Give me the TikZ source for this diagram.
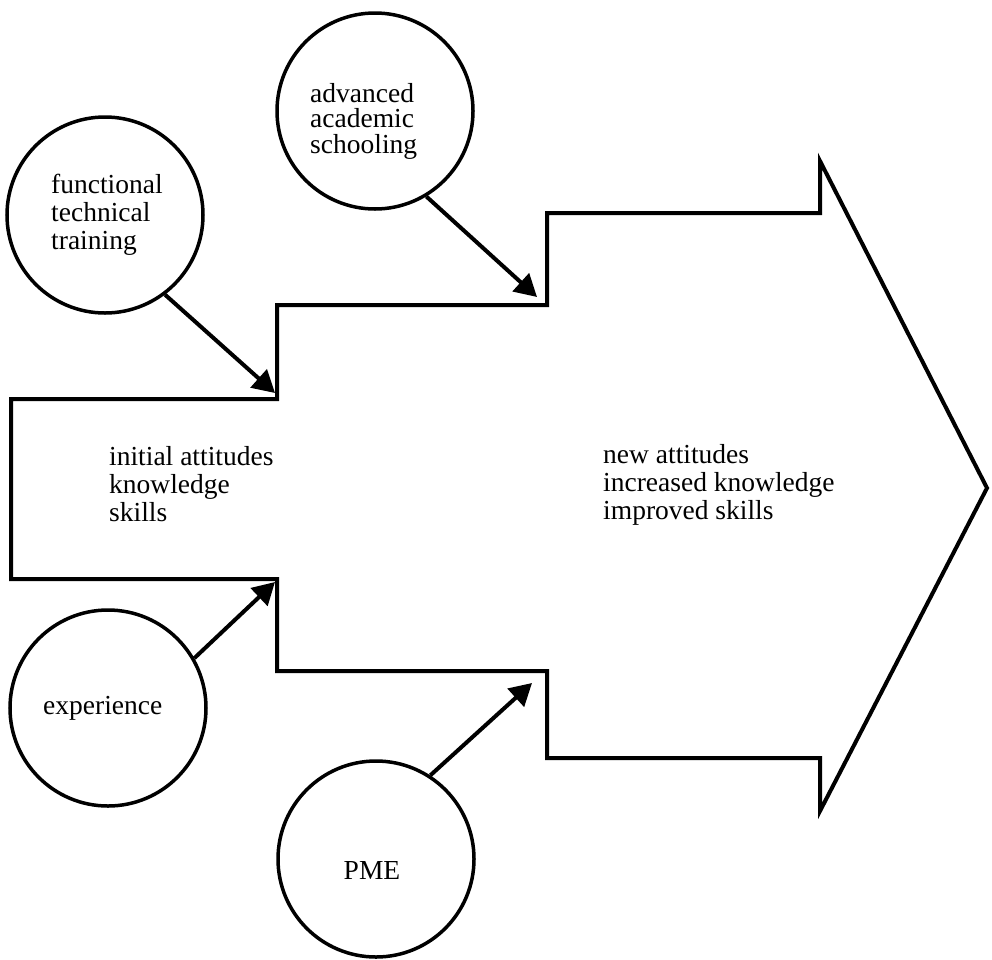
\documentclass[tikz,border=0pt]{standalone}
\usepackage{fontspec}
\setmainfont{Liberation Serif}
\usetikzlibrary{arrows.meta}
\begin{document}
\begin{tikzpicture}[x=1pt,y=-1pt,
  outline/.style={line width=4pt, line join=miter},
  circ/.style={circle, draw, line width=3.5pt, minimum size=196pt, inner sep=0pt},
  feed/.style={line width=4pt, -{Triangle[length=22pt,width=24pt]}},
  lbl/.style={align=left, inner sep=0pt, anchor=west,
    font=\fontsize{27.5}{28}\selectfont}]
\useasboundingbox (0,0) rectangle (992,959);
% big stepped arrow
\draw[outline] (11,399) -- (277,399) -- (277,305) -- (547,305) -- (547,213)
  -- (820,213) -- (820,161) -- (987,488) -- (820,811) -- (820,758)
  -- (547,758) -- (547,671) -- (277,671) -- (277,579) -- (11,579) -- cycle;
% labels inside the arrow
\node[lbl] (init) at (109,484) {initial attitudes\\knowledge\\skills};
\node[lbl] (new) at (603,485) {new attitudes\\increased knowledge\\improved skills};
% circles
\node[circ] (ftt) at (105,215) {};
\node[circ] (aas) at (375,111) {};
\node[circ] (exp) at (108,708) {};
\node[circ] (pme) at (376,859) {};
% circle texts
\node[lbl] (ftttext) at (51,215) {functional\\technical\\training};
\node[lbl, font=\fontsize{27.5}{25.5}\selectfont] (aastext) at (310,121) {advanced\\academic\\schooling};
\node[lbl] (exptext) at (43,708) {experience};
\node[lbl, anchor=center] (pmetext) at (372,870) {PME};
% arrow tips
\coordinate (t1) at (275,393);
\coordinate (t2) at (537,297);
\coordinate (t3) at (275,582);
\coordinate (t4) at (532,683);
% feeding arrows
\draw[feed] (ftt.-53) -- (t1);
\draw[feed] (aas.-59) -- (t2);
\draw[feed] (exp.30) -- (t3);
\draw[feed] (pme.57) -- (t4);
\end{tikzpicture}
\end{document}
